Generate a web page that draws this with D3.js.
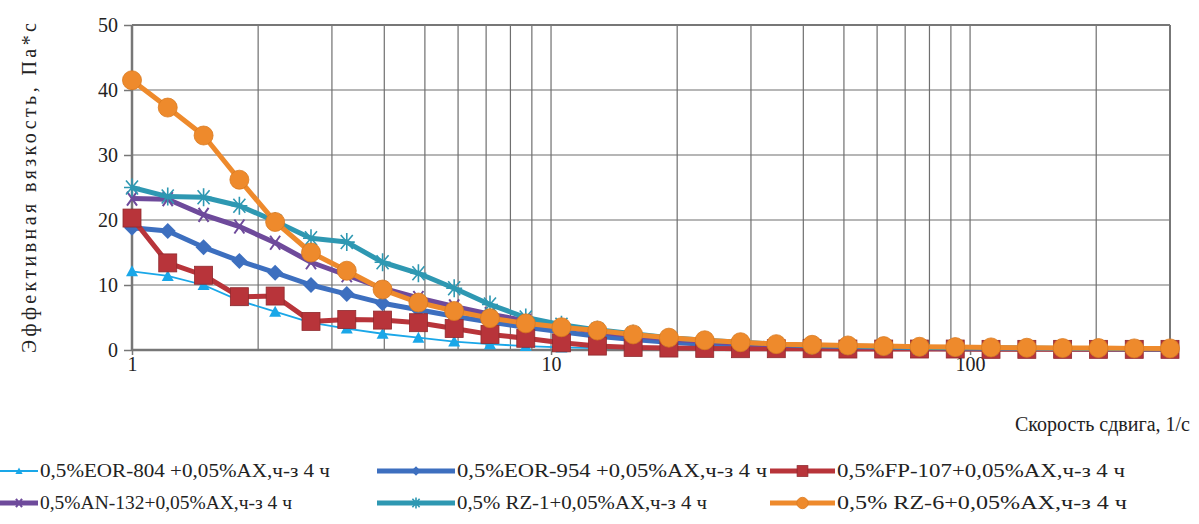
<!DOCTYPE html>
<html>
<head>
<meta charset="utf-8">
<script src="https://cdn.jsdelivr.net/npm/d3@7"></script>
<style>
body{margin:0;background:#fff;}
text{font-family:"Liberation Serif","Times New Roman",serif;fill:#222;}
</style>
</head>
<body>
<script>

var shear = [1, 1.217, 1.482, 1.804, 2.196, 2.674, 3.255, 3.963, 4.825, 5.873,
             7.150, 8.704, 10.59, 12.90, 15.70, 19.11, 23.27, 28.33, 34.48, 41.98,
             51.10, 62.21, 75.74, 92.18, 112.2, 136.6, 166.3, 202.5, 246.5, 300];

var eor804 = [12.1, 11.4, 10.0, 7.6, 5.9, 4.2, 3.3, 2.5, 1.9, 1.3,
              0.9, 0.6, 0.4, 0.3, 0.25, 0.2, 0.2, 0.15, 0.15, 0.1,
              0.1, 0.1, 0.1, 0.1, 0.1, 0.1, 0.1, 0.1, 0.1, 0.1];
var eor954 = [18.8, 18.3, 15.8, 13.7, 11.9, 10.0, 8.6, 7.2, 6.2, 5.2,
              4.3, 3.5, 2.8, 2.1, 1.6, 1.2, 0.9, 0.7, 0.5, 0.4,
              0.3, 0.3, 0.25, 0.2, 0.2, 0.2, 0.15, 0.15, 0.15, 0.15];
var fp107 = [20.3, 13.4, 11.5, 8.2, 8.3, 4.4, 4.7, 4.6, 4.2, 3.3,
             2.4, 1.8, 1.1, 0.6, 0.4, 0.3, 0.25, 0.2, 0.2, 0.2,
             0.15, 0.15, 0.15, 0.15, 0.1, 0.1, 0.1, 0.1, 0.1, 0.1];
var an132 = [23.3, 23.2, 20.8, 19.0, 16.5, 13.5, 11.5, 9.5, 8.0, 6.7,
             5.5, 4.5, 3.6, 2.8, 2.2, 1.7, 1.3, 1.0, 0.8, 0.6,
             0.5, 0.4, 0.35, 0.3, 0.3, 0.25, 0.25, 0.2, 0.2, 0.2];
var rz1 = [25.0, 23.6, 23.5, 22.2, 19.8, 17.2, 16.6, 13.5, 11.8, 9.5,
           7.0, 5.0, 3.9, 3.1, 2.5, 1.9, 1.5, 1.2, 0.9, 0.7,
           0.6, 0.5, 0.4, 0.35, 0.3, 0.3, 0.25, 0.25, 0.2, 0.2];
var rz6 = [41.5, 37.3, 33.0, 26.2, 19.7, 15.0, 12.2, 9.3, 7.3, 6.0,
           4.9, 4.1, 3.5, 3.0, 2.4, 1.9, 1.5, 1.2, 0.9, 0.8,
           0.7, 0.6, 0.5, 0.45, 0.4, 0.35, 0.3, 0.3, 0.25, 0.25];

var seriesNames = ["0,5%EOR-804 +0,05%AX,ч-з 4 ч", "0,5%EOR-954 +0,05%AX,ч-з 4 ч",
                   "0,5%FP-107+0,05%AX,ч-з 4 ч", "0,5%AN-132+0,05%AX,ч-з 4 ч",
                   "0,5% RZ-1+0,05%AX,ч-з 4 ч", "0,5% RZ-6+0,05%AX,ч-з 4 ч"];
var yTicks = [0, 10, 20, 30, 40, 50];
var xLabels = [1, 10, 100];
var xGrid = [2, 3, 4, 5, 6, 7, 8, 9, 10, 20, 30, 40, 50, 60, 70, 80, 90, 100, 200, 300];

var series = [
  {name:seriesNames[0], values:eor804, color:"#1aa7e8", width:1.8, marker:"triangle"},
  {name:seriesNames[1], values:eor954, color:"#3d6fbf", width:5, marker:"diamond"},
  {name:seriesNames[2], values:fp107, color:"#b8343a", width:5, marker:"square"},
  {name:seriesNames[3], values:an132, color:"#6e4a9b", width:5, marker:"plus"},
  {name:seriesNames[4], values:rz1, color:"#2e98b2", width:5, marker:"star"},
  {name:seriesNames[5], values:rz6, color:"#ee8a2c", width:5, marker:"circle"}
];

var margin = {left:132, top:25, right:29, bottom:174};
var width = 1199 - margin.left - margin.right;
var height = 524 - margin.top - margin.bottom;

var svg = d3.select("body").append("svg").attr("width",1199).attr("height",524);
var chartGroup = svg.append("g")
            .attr("transform","translate("+margin.left+","+margin.top+")");

var x = d3.scaleLog().domain([1,300]).range([0,width]);
var y = d3.scaleLinear().domain([0,50]).range([height,0]);

// grid
chartGroup.selectAll("line.vgrid").data(xGrid).enter().append("line")
            .attr("class","vgrid")
            .attr("x1",function(d){return x(d);}).attr("x2",function(d){return x(d);})
            .attr("y1",0).attr("y2",height)
            .attr("stroke","#6f6f6f").attr("stroke-width",1.2);
chartGroup.selectAll("line.hgrid").data(yTicks.slice(1)).enter().append("line")
            .attr("class","hgrid")
            .attr("x1",0).attr("x2",width)
            .attr("y1",function(d){return y(d);}).attr("y2",function(d){return y(d);})
            .attr("stroke","#6f6f6f").attr("stroke-width",1.2);

// axes
var yAxis = d3.axisLeft(y).tickValues(yTicks).tickSize(8).tickPadding(6);
var xAxis = d3.axisBottom(x).tickValues(xLabels).tickSize(5).tickFormat(d3.format("d")).tickPadding(2);

var yG = chartGroup.append("g").attr("class","y axis").call(yAxis);
var xG = chartGroup.append("g").attr("class","x axis")
            .attr("transform","translate(0,"+height+")").call(xAxis);
yG.select(".domain").remove();
xG.select(".domain").remove();
yG.selectAll(".tick line").attr("stroke","#777").attr("stroke-width",1.5).attr("x2",0).attr("x1",-8);
xG.selectAll(".tick line").attr("stroke","#777").attr("stroke-width",1.5);
chartGroup.selectAll(".axis text").attr("font-size","20px").attr("fill","#222")
            .attr("font-family","Liberation Serif, serif");

chartGroup.append("line").attr("x1",0).attr("x2",0).attr("y1",0).attr("y2",height)
            .attr("stroke","#777").attr("stroke-width",2.5);
chartGroup.append("line").attr("x1",0).attr("x2",width).attr("y1",height).attr("y2",height)
            .attr("stroke","#777").attr("stroke-width",2.5);
chartGroup.append("line").attr("x1",width).attr("x2",width).attr("y1",0).attr("y2",height)
            .attr("stroke","#777").attr("stroke-width",2);
chartGroup.append("line").attr("x1",0).attr("x2",width).attr("y1",0).attr("y2",0)
            .attr("stroke","#777").attr("stroke-width",2);

// markers
function drawMarker(g, type, color, cx, cy, k){
  k = k || 1;
  if(type=="triangle"){
    g.append("path").attr("d","M"+cx+","+(cy-6*k)+"L"+(cx+6*k)+","+(cy+5*k)+"L"+(cx-6*k)+","+(cy+5*k)+"Z")
      .attr("fill",color);
  } else if(type=="diamond"){
    g.append("path").attr("d","M"+cx+","+(cy-8*k)+"L"+(cx+8*k)+","+cy+"L"+cx+","+(cy+8*k)+"L"+(cx-8*k)+","+cy+"Z")
      .attr("fill",color);
  } else if(type=="square"){
    g.append("rect").attr("x",cx-9*k).attr("y",cy-9*k).attr("width",18*k).attr("height",18*k)
      .attr("fill",color).attr("stroke","#8f2a2e").attr("stroke-width",0.8);
  } else if(type=="circle"){
    g.append("circle").attr("cx",cx).attr("cy",cy).attr("r",9.5*k)
      .attr("fill",color).attr("stroke","#d97a20").attr("stroke-width",0.8);
  } else if(type=="plus"){
    g.append("path").attr("d","M"+(cx-5*k)+","+(cy-7*k)+"L"+(cx+5*k)+","+(cy+7*k)+"M"+(cx+5*k)+","+(cy-7*k)+"L"+(cx-5*k)+","+(cy+7*k))
      .attr("stroke",color).attr("stroke-width",2);
  } else if(type=="star"){
    g.append("path").attr("d","M"+(cx-8*k)+","+cy+"L"+(cx+8*k)+","+cy+
        "M"+(cx-6*k)+","+(cy-7*k)+"L"+(cx+6*k)+","+(cy+7*k)+"M"+(cx+6*k)+","+(cy-7*k)+"L"+(cx-6*k)+","+(cy+7*k)+
        "M"+cx+","+(cy-9*k)+"L"+cx+","+(cy+9*k))
      .attr("stroke",color).attr("stroke-width",1.6);
  }
}

var line = d3.line().x(function(d){return x(d.x);}).y(function(d){return y(d.y);});

series.forEach(function(s){
  var pts = shear.map(function(v,i){return {x:v, y:s.values[i]};});
  var g = chartGroup.append("g");
  g.append("path").attr("d",line(pts)).attr("fill","none")
    .attr("stroke",s.color).attr("stroke-width",s.width).attr("stroke-linejoin","round");
  pts.forEach(function(p){ drawMarker(g, s.marker, s.color, x(p.x), y(p.y)); });
});

// axis titles
svg.append("text").attr("x",1190).attr("y",431).attr("text-anchor","end")
    .attr("font-size","20px").text("Скорость сдвига, 1/с");
svg.append("text").attr("transform","translate(36,188) rotate(-90)")
    .attr("text-anchor","middle").attr("font-size","20px")
    .attr("textLength",330).attr("lengthAdjust","spacing")
    .text("Эффективная вязкость, Па*с");

// legend
var legPos = [{x:0,y:471},{x:377,y:471},{x:770,y:471},{x:0,y:503},{x:377,y:503},{x:770,y:503}];
var legLine = [38, 78, 65, 38, 78, 65];
var legText = [290, 310, 288, 252, 250, 290];
series.forEach(function(s,i){
  var p = legPos[i];
  var lg = svg.append("g");
  lg.append("line").attr("x1",p.x).attr("x2",p.x+legLine[i]).attr("y1",p.y).attr("y2",p.y)
    .attr("stroke",s.color).attr("stroke-width",s.width);
  drawMarker(lg, s.marker, s.color, p.x+legLine[i]/2, p.y, 0.6);
  lg.append("text").attr("x",p.x+legLine[i]+2).attr("y",p.y+6)
    .attr("font-size","19px")
    .attr("textLength",legText[i]).attr("lengthAdjust","spacingAndGlyphs")
    .text(s.name);
});

</script>
</body>
</html>
